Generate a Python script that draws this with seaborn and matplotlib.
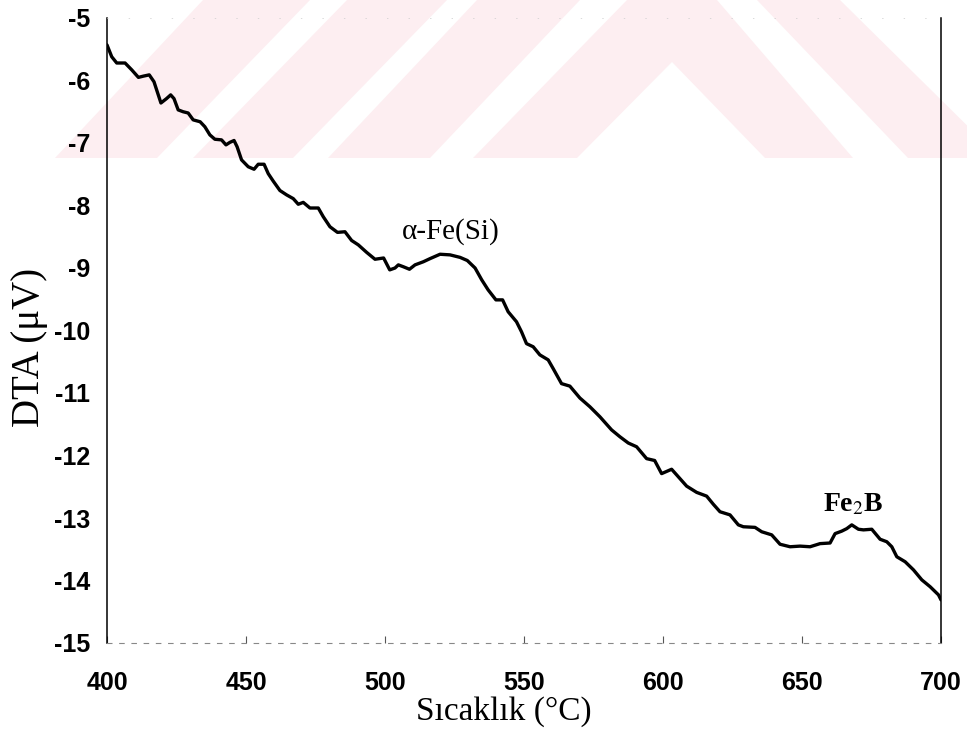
import matplotlib
matplotlib.use("Agg")
import matplotlib.pyplot as plt
from matplotlib.patches import Polygon
import seaborn as sns
import pandas as pd

# DTA trace, heating run
temperature_c = [
    400.0, 401.7, 403.5, 406.5, 408.9, 411.3, 413.1, 415.2, 416.9, 419.4,
    421.4, 422.9, 424.1, 425.6, 427.4, 429.2, 431.0, 433.5, 435.2, 437.0,
    438.8, 441.2, 442.8, 444.2, 445.7, 446.8, 448.4, 450.8, 452.9, 454.4,
    456.5, 458.0, 459.8, 462.2, 464.6, 467.0, 468.8, 470.6, 473.0, 476.0,
    477.8, 480.2, 482.9, 485.6, 488.0, 490.4, 493.4, 496.4, 499.5, 501.7,
    503.6, 504.8, 506.6, 508.8, 510.8, 513.8, 516.2, 519.8, 523.4, 527.0,
    529.6, 532.4, 534.8, 537.1, 539.9, 542.3, 544.3, 547.3, 549.1, 550.9,
    553.3, 555.7, 558.7, 560.5, 563.5, 566.5, 570.1, 573.7, 577.3, 581.5,
    584.5, 587.5, 590.5, 594.1, 597.0, 599.5, 603.1, 605.5, 608.5, 612.1,
    615.7, 618.1, 620.5, 624.1, 627.1, 628.9, 633.1, 635.5, 639.1, 642.1,
    645.7, 649.3, 652.9, 656.5, 660.1, 661.9, 664.3, 666.1, 667.9, 670.3,
    672.1, 675.1, 678.1, 680.5, 682.3, 684.1, 687.1, 690.1, 693.1, 696.1,
    699.1, 700.0,
]
dta_uv = [
    -5.43, -5.62, -5.72, -5.72, -5.83, -5.95, -5.93, -5.91, -6.02, -6.36,
    -6.29, -6.23, -6.29, -6.47, -6.50, -6.52, -6.63, -6.66, -6.74, -6.87,
    -6.94, -6.95, -7.03, -6.99, -6.96, -7.06, -7.27, -7.38, -7.42, -7.34,
    -7.34, -7.49, -7.61, -7.76, -7.83, -7.89, -7.98, -7.95, -8.04, -8.04,
    -8.18, -8.34, -8.43, -8.42, -8.56, -8.63, -8.75, -8.86, -8.84, -9.03,
    -9.00, -8.95, -8.98, -9.02, -8.95, -8.90, -8.85, -8.78, -8.79, -8.83,
    -8.88, -9.00, -9.19, -9.35, -9.51, -9.51, -9.70, -9.86, -10.02, -10.21,
    -10.26, -10.39, -10.47, -10.61, -10.85, -10.89, -11.08, -11.22, -11.38, -11.59,
    -11.70, -11.80, -11.86, -12.05, -12.08, -12.29, -12.22, -12.34, -12.49, -12.59,
    -12.65, -12.78, -12.90, -12.95, -13.11, -13.14, -13.15, -13.22, -13.27, -13.42,
    -13.46, -13.45, -13.46, -13.41, -13.40, -13.25, -13.21, -13.17, -13.11, -13.18,
    -13.19, -13.18, -13.34, -13.38, -13.46, -13.62, -13.70, -13.83, -13.99, -14.10,
    -14.23, -14.31,
]
x_ticks = [400, 450, 500, 550, 600, 650, 700]
y_ticks = [-5, -6, -7, -8, -9, -10, -11, -12, -13, -14, -15]
peak_labels = ["α-Fe(Si)", "Fe$_2$B"]
peak_temps = [523.7, 668.3]
peak_label_dta = [-8.41, -12.79]

df = pd.DataFrame({"T": temperature_c, "DTA": dta_uv})

sns.set_theme(style="white")
plt.rcParams["font.family"] = ["Liberation Sans", "DejaVu Sans"]
plt.rcParams["axes.unicode_minus"] = False
plt.rcParams["mathtext.fontset"] = "stix"
plt.rcParams["text.color"] = "black"
plt.rcParams["xtick.color"] = "black"
plt.rcParams["ytick.color"] = "black"
plt.rcParams["xtick.labelcolor"] = "black"
plt.rcParams["ytick.labelcolor"] = "black"

W, H = 967, 750
fig = plt.figure(figsize=(W / 100, H / 100), dpi=100, facecolor="white")

# faint striped banner across the top of the page
banner_color = "#fdeef1"
banner_shapes = [
    [(55, 158), (157, 158), (310, 0), (203, 0)],
    [(193, 158), (293, 158), (447, 0), (347, 0)],
    [(328, 158), (430, 158), (580, 0), (477, 0)],
    [(473, 158), (627, 0), (717, 0), (853, 158), (765, 158), (672, 62), (577, 158)],
    [(908, 158), (1000, 158), (840, 0), (757, 0)],
]
for pts in banner_shapes:
    fig.add_artist(Polygon([(x / W, 1 - y / H) for x, y in pts], closed=True,
                           transform=fig.transFigure, facecolor=banner_color,
                           edgecolor="none", zorder=0))

ax = fig.add_axes([107 / W, 1 - 643 / H, (941 - 107) / W, (643 - 18) / H])
ax.patch.set_alpha(0)

sns.lineplot(data=df, x="T", y="DTA", ax=ax, color="black", linewidth=2.4,
             estimator=None, sort=True)

ax.set_xlim(400, 700)
ax.set_ylim(-15, -5)
ax.set_xticks(x_ticks)
ax.set_yticks(y_ticks)
ax.set_xlabel("")
ax.set_ylabel("")
ax.tick_params(axis="x", direction="in", length=5, width=0.8, color="#555555",
               pad=20, labelsize=18, bottom=True)
ax.tick_params(axis="y", length=0, pad=12, labelsize=18)
for lbl in ax.get_xticklabels() + ax.get_yticklabels():
    lbl.set_fontweight("bold")
    lbl.set_color("black")

for side in ("left", "right"):
    ax.spines[side].set_color("black")
    ax.spines[side].set_linewidth(1.1)
ax.spines["bottom"].set_color("#888888")
ax.spines["bottom"].set_linewidth(0.8)
ax.spines["bottom"].set_linestyle((0, (4, 7)))
ax.spines["top"].set_color("#cccccc")
ax.spines["top"].set_linewidth(0.5)
ax.spines["top"].set_linestyle((0, (1, 30)))

serif = ["Liberation Serif", "DejaVu Serif"]
ax.text(peak_temps[0], peak_label_dta[0], peak_labels[0], family=serif,
        fontsize=21, ha="center", va="center", color="black")
ax.text(peak_temps[1], peak_label_dta[1], peak_labels[1], family=serif,
        fontsize=20, fontweight="bold", ha="center", va="center", color="black")

fig.text(504 / W, 1 - 712 / H, "Sıcaklık (°C)", family=serif, fontsize=24,
         ha="center", va="center", color="black")
fig.text(30 / W, 1 - 347 / H, "DTA (μV)", family=serif, fontsize=28,
         rotation=90, ha="center", va="center", color="black")

fig.savefig("out.png", dpi=100, facecolor="white")
